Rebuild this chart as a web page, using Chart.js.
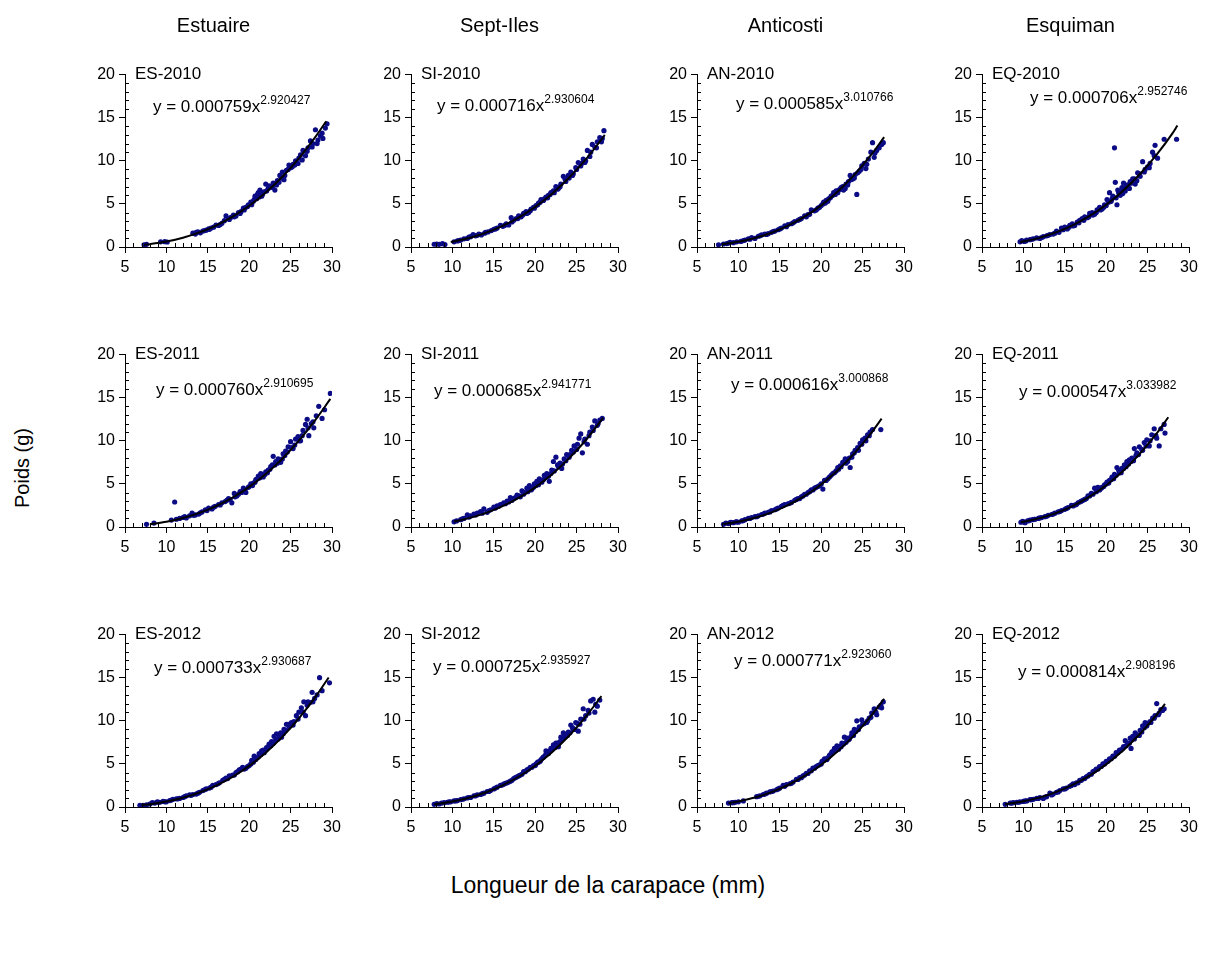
<!DOCTYPE html>
<html>
<head>
<meta charset="utf-8">
<script src="https://cdn.jsdelivr.net/npm/chart.js@4.4.1/dist/chart.umd.min.js"></script>
<style>
  body { margin: 0; background: #fff; font-family: "Liberation Sans", Arial, sans-serif; }
  #page { position: relative; width: 1212px; height: 957px; overflow: hidden; }
  canvas { position: absolute; }
  .txt { position: absolute; white-space: nowrap; color: #000; line-height: 1; }
  .head { font-size: 20px; transform: translateX(-50%); }
  .lab { font-size: 17px; }
  .eq { font-size: 17px; }
  .eq sup { font-size: 12px; vertical-align: 0; position: relative; top: -8px; }
  #ytitle { font-size: 20px; transform: translate(-50%, -50%) rotate(-90deg); }
  #xtitle { font-size: 23px; transform: translateX(-50%); }
</style>
</head>
<body>
<div id="page"></div>
<script>
// Column headers, panel names and fitted equations
const COLUMNS = ["Estuaire", "Sept-Iles", "Anticosti", "Esquiman"];
const LABELS = [
    ["ES-2010", "SI-2010", "AN-2010", "EQ-2010"],
    ["ES-2011", "SI-2011", "AN-2011", "EQ-2011"],
    ["ES-2012", "SI-2012", "AN-2012", "EQ-2012"]
];
const EQ_COEF = [
    ["0.000759", "0.000716", "0.000585", "0.000706"],
    ["0.000760", "0.000685", "0.000616", "0.000547"],
    ["0.000733", "0.000725", "0.000771", "0.000814"]
];
const EQ_EXP = [
    ["2.920427", "2.930604", "3.010766", "2.952746"],
    ["2.910695", "2.941771", "3.000868", "3.033982"],
    ["2.930687", "2.935927", "2.923060", "2.908196"]
];
const X_TICKS = [5, 10, 15, 20, 25, 30];
const Y_TICKS = [0, 5, 10, 15, 20];

// Measured points (length mm, weight g)
const ES2010_PTS = [[7.3,0.25],[7.6,0.3],[9.3,0.6],[9.8,0.62],[10.1,0.58],[13.2,1.6],[13.5,1.5],[13.8,1.75],[14.1,1.65],[14.4,1.85],[14.8,1.95],[15.1,2.1],[15.4,2.2],[15.7,2.3],[16.0,2.55],[16.3,2.5],[16.7,2.75],[17.0,3.05],[17.2,3.6],[17.5,3.3],[17.8,3.45],[18.1,3.7],[18.4,3.6],[18.7,4.0],[19.0,4.1],[19.3,4.5],[19.6,4.6],[19.9,4.9],[20.2,5.2],[20.5,5.3],[20.7,5.9],[20.9,5.6],[21.1,6.3],[21.3,6.6],[21.5,5.9],[21.8,6.4],[22.0,7.3],[22.3,6.8],[22.6,7.0],[22.9,7.4],[23.1,6.6],[23.4,7.7],[23.7,8.3],[24.0,8.7],[24.2,7.8],[24.5,8.9],[24.8,9.5],[25.0,9.2],[25.3,9.6],[25.6,10.0],[25.9,9.7],[26.2,10.7],[26.5,11.2],[26.8,10.6],[27.1,11.5],[27.4,12.3],[27.7,12.0],[28.0,13.6],[28.3,12.4],[28.6,12.9],[28.9,12.6],[29.2,13.8],[29.4,14.3],
    [13.6,1.7],[14.6,1.9],[15.2,2.05],[16.5,2.6],[17.6,3.2],[18.2,3.5],[18.9,3.9],[19.4,4.3],[19.8,4.7],[20.3,4.9],[20.6,5.5],[21.0,6.1],[21.2,5.8],[21.6,6.1],[22.1,6.5],[22.4,7.1],[22.8,6.9],[23.3,7.2],[23.6,7.5],[23.9,8.0],[24.3,8.3],[24.7,9.0],[25.2,9.3],[25.5,9.5],[26.0,10.3],[26.4,10.1],[27.0,11.1],[27.6,11.6],[28.2,12.0],[28.8,13.2]];
const SI2010_PTS = [[7.8,0.32],[8.1,0.35],[8.4,0.3],[8.8,0.38],[9.1,0.28],[10.2,0.6],[10.6,0.7],[11.0,0.8],[11.4,0.95],[11.8,1.0],[12.2,1.2],[12.5,1.45],[12.8,1.3],[13.2,1.5],[13.5,1.4],[13.9,1.6],[14.3,1.75],[14.7,1.9],[15.0,2.05],[15.4,2.2],[15.8,2.5],[16.1,2.4],[16.5,2.7],[16.8,2.55],[17.1,3.4],[17.4,3.1],[17.7,3.3],[18.0,3.6],[18.3,3.5],[18.6,3.9],[18.9,4.1],[19.2,4.0],[19.5,4.4],[19.8,4.6],[20.1,4.8],[20.4,5.1],[20.7,5.5],[21.0,5.4],[21.3,5.8],[21.6,6.0],[21.9,6.3],[22.2,6.5],[22.5,7.0],[22.8,6.8],[23.1,7.3],[23.4,8.2],[23.7,7.6],[24.0,8.3],[24.3,8.7],[24.6,8.5],[24.9,9.2],[25.2,9.8],[25.5,9.4],[25.8,10.2],[26.1,10.0],[26.3,11.2],[26.6,10.5],[26.9,11.9],[27.2,11.6],[27.5,12.2],[27.8,12.7],[28.1,12.6],[28.3,13.5],
    [10.8,0.75],[12.0,1.15],[13.0,1.35],[14.0,1.7],[15.2,2.1],[16.3,2.5],[17.2,2.9],[17.9,3.3],[18.5,3.7],[19.0,3.9],[19.4,4.2],[19.9,4.5],[20.3,4.9],[20.6,5.2],[21.1,5.6],[21.5,5.7],[21.8,6.1],[22.3,6.3],[22.7,6.7],[23.0,7.0],[23.6,7.9],[24.1,8.0],[24.5,8.3],[25.0,9.0],[25.6,9.7],[26.0,9.8],[26.7,11.0],[27.4,11.5],[28.0,12.2]];
const AN2010_PTS = [[7.6,0.25],[8.2,0.35],[8.6,0.4],[9.0,0.55],[9.4,0.5],[9.8,0.6],[10.3,0.65],[10.8,0.8],[11.2,0.95],[11.6,1.1],[12.0,1.0],[12.4,1.25],[12.8,1.4],[13.2,1.5],[13.6,1.55],[14.0,1.7],[14.4,1.85],[14.8,2.0],[15.2,2.2],[15.6,2.45],[16.0,2.6],[16.4,2.7],[16.8,2.95],[17.2,3.1],[17.6,3.3],[18.0,3.6],[18.4,3.75],[18.8,4.3],[19.2,4.2],[19.6,4.5],[20.0,4.8],[20.3,5.2],[20.6,5.4],[20.9,5.6],[21.2,5.9],[21.5,6.3],[21.8,6.5],[22.1,6.6],[22.4,6.9],[22.7,6.6],[23.0,7.3],[23.3,7.6],[23.5,8.3],[23.8,7.9],[24.1,8.4],[24.3,6.1],[24.6,8.8],[24.9,9.4],[25.2,9.7],[25.4,9.1],[25.7,10.2],[26.0,11.0],[26.2,12.1],[26.4,10.4],[26.7,11.2],[27.0,11.5],[27.3,11.9],[27.5,12.1],
    [8.8,0.45],[10.6,0.75],[11.4,0.9],[12.6,1.3],[13.4,1.45],[14.2,1.8],[15.0,2.1],[15.8,2.35],[16.6,2.8],[17.4,3.2],[18.2,3.5],[18.6,3.8],[19.4,4.3],[19.8,4.6],[20.2,5.0],[20.5,5.1],[20.8,5.3],[21.1,5.7],[21.4,6.0],[21.7,6.1],[22.0,6.3],[22.3,6.7],[22.6,7.0],[22.9,6.8],[23.2,7.2],[23.6,7.8],[24.0,8.0],[24.4,8.6],[24.8,9.0],[25.5,9.6],[26.5,10.9]];
const EQ2010_PTS = [[9.6,0.6],[9.8,0.75],[10.1,0.65],[10.4,0.8],[10.8,0.85],[11.2,0.95],[11.6,1.05],[12.0,1.0],[12.4,1.2],[12.8,1.3],[13.2,1.45],[13.6,1.5],[14.0,1.85],[14.3,1.7],[14.6,2.2],[15.0,2.3],[15.3,2.1],[15.6,2.5],[15.9,2.7],[16.2,2.5],[16.5,2.9],[16.8,3.1],[17.1,3.3],[17.4,3.5],[17.7,3.4],[18.0,3.9],[18.3,4.0],[18.6,3.8],[18.9,4.3],[19.2,4.6],[19.5,4.4],[19.8,4.9],[20.1,5.5],[20.4,6.3],[20.6,5.3],[20.8,5.9],[21.0,11.5],[21.1,7.5],[21.3,4.9],[21.5,6.3],[21.7,6.0],[21.9,6.9],[22.1,7.4],[22.3,6.5],[22.6,7.2],[22.9,7.6],[23.2,7.9],[23.5,7.3],[23.8,8.6],[24.1,8.2],[24.4,9.9],[24.7,9.0],[25.0,9.3],[25.3,9.7],[25.6,11.0],[25.9,11.8],[26.2,10.3],[27.0,12.5],[28.5,12.5],
    [10.3,0.7],[11.0,0.9],[12.2,1.1],[13.0,1.35],[13.8,1.6],[14.8,2.0],[15.5,2.3],[16.0,2.45],[16.7,2.8],[17.3,3.1],[17.9,3.5],[18.4,3.7],[18.8,4.0],[19.3,4.3],[19.7,4.6],[20.0,4.8],[20.3,5.2],[20.7,5.6],[21.2,5.7],[21.4,6.6],[21.8,6.4],[22.0,6.2],[22.4,7.0],[22.8,6.8],[23.0,7.4],[23.4,7.9],[23.7,7.7],[24.0,8.5],[24.6,8.7],[25.2,9.2],[25.8,10.6]];
const ES2011_PTS = [[7.6,0.3],[8.5,0.45],[10.6,0.8],[11.0,2.9],[11.2,0.9],[11.6,1.0],[12.0,1.1],[12.4,1.05],[12.8,1.3],[13.1,1.6],[13.5,1.4],[13.9,1.5],[14.3,1.75],[14.7,2.0],[15.1,2.2],[15.5,2.1],[15.9,2.4],[16.3,2.6],[16.7,2.8],[17.1,2.95],[17.5,3.3],[17.9,2.8],[18.2,3.9],[18.5,3.6],[18.9,4.1],[19.3,4.5],[19.6,4.0],[19.9,4.6],[20.2,5.0],[20.5,5.1],[20.8,5.5],[21.1,5.9],[21.4,6.2],[21.7,5.8],[22.0,6.4],[22.3,6.6],[22.6,7.0],[22.9,8.2],[23.2,7.6],[23.5,7.9],[23.8,7.5],[24.1,8.5],[24.4,8.8],[24.7,9.3],[25.0,9.9],[25.3,9.1],[25.6,10.2],[25.9,10.5],[26.2,10.0],[26.5,11.2],[26.8,11.9],[27.0,12.5],[27.2,10.6],[27.5,12.0],[27.8,11.5],[28.1,12.9],[28.4,14.0],[28.8,12.6],[29.1,13.6],[29.8,15.5],
    [12.2,1.2],[13.3,1.35],[14.1,1.65],[14.9,1.9],[15.7,2.3],[16.5,2.55],[17.3,3.1],[17.7,3.2],[18.3,3.5],[18.7,3.8],[19.1,4.0],[19.5,4.3],[20.0,4.7],[20.4,4.8],[20.7,5.2],[21.0,5.6],[21.3,5.7],[21.6,6.1],[21.9,6.1],[22.2,6.3],[22.5,6.7],[22.8,7.2],[23.1,7.2],[23.4,7.4],[23.7,7.8],[24.0,7.9],[24.3,8.3],[24.6,8.7],[25.1,9.2],[25.5,9.5],[26.0,10.0],[26.4,10.6],[27.1,11.5],[27.7,12.2]];
const SI2011_PTS = [[10.2,0.6],[10.5,0.7],[11.0,0.85],[11.4,1.0],[11.8,1.4],[12.2,1.3],[12.6,1.5],[13.0,1.6],[13.4,1.8],[13.8,2.1],[14.2,1.7],[14.6,2.0],[15.0,2.3],[15.4,2.45],[15.8,2.6],[16.2,2.8],[16.6,3.0],[17.0,3.4],[17.4,3.3],[17.8,3.7],[18.1,3.6],[18.4,4.2],[18.7,4.0],[19.0,4.5],[19.3,4.8],[19.6,4.4],[19.9,5.0],[20.2,5.3],[20.5,5.6],[20.8,5.2],[21.1,6.0],[21.4,6.2],[21.7,5.3],[22.0,6.6],[22.2,7.6],[22.5,8.1],[22.7,7.2],[23.0,7.4],[23.2,6.8],[23.5,7.9],[23.8,8.4],[24.1,8.1],[24.4,8.9],[24.7,9.4],[25.0,9.0],[25.3,10.3],[25.5,10.8],[25.7,8.6],[26.0,10.2],[26.3,9.6],[26.6,11.0],[26.9,11.6],[27.2,12.3],[27.5,11.8],[27.8,12.4],[28.1,12.6],
    [11.2,0.95],[12.0,1.15],[12.8,1.4],[13.6,1.6],[14.4,1.9],[15.2,2.2],[15.6,2.4],[16.4,2.7],[16.8,2.9],[17.2,3.1],[17.6,3.4],[18.2,3.5],[18.6,3.8],[19.1,4.1],[19.5,4.3],[19.8,4.6],[20.1,4.8],[20.4,4.9],[20.7,5.3],[21.0,5.5],[21.3,5.8],[21.6,5.9],[21.9,6.2],[22.3,6.5],[22.8,7.0],[23.3,7.3],[23.7,7.7],[24.2,8.4],[24.6,8.7],[25.1,9.6],[25.9,9.9],[26.5,10.6],[27.0,11.2],[27.6,12.0]];
const AN2011_PTS = [[8.2,0.3],[8.5,0.45],[8.8,0.4],[9.1,0.55],[9.4,0.5],[9.7,0.6],[10.0,0.55],[10.4,0.7],[10.8,0.85],[11.2,1.0],[11.6,1.1],[12.0,1.2],[12.4,1.3],[12.8,1.45],[13.2,1.6],[13.6,1.7],[14.0,1.9],[14.4,2.0],[14.8,2.2],[15.2,2.4],[15.6,2.6],[16.0,2.7],[16.4,2.85],[16.8,3.1],[17.2,3.3],[17.6,3.5],[18.0,3.8],[18.4,4.0],[18.8,4.3],[19.2,4.5],[19.6,4.7],[20.0,5.0],[20.2,4.4],[20.4,5.4],[20.8,5.6],[21.2,6.0],[21.6,6.3],[22.0,6.9],[22.3,7.1],[22.6,7.5],[22.9,7.9],[23.2,7.6],[23.5,6.9],[23.8,8.5],[24.1,8.9],[24.4,9.2],[24.7,9.7],[25.0,10.1],[25.3,10.3],[25.6,10.7],[25.9,11.0],[26.2,11.3],[27.2,11.3],
    [9.0,0.5],[9.8,0.6],[10.6,0.75],[11.4,1.0],[12.2,1.2],[13.0,1.5],[13.8,1.75],[14.6,2.1],[15.4,2.5],[16.2,2.75],[17.0,3.2],[17.4,3.3],[17.8,3.6],[18.2,3.8],[18.6,4.1],[19.0,4.3],[19.4,4.6],[19.8,4.8],[20.6,5.4],[21.0,5.8],[21.4,6.2],[21.8,6.5],[22.1,6.7],[22.4,7.0],[22.8,7.6],[23.0,7.4],[23.4,8.0],[23.7,8.1],[24.0,8.6],[24.5,8.9],[24.9,9.6],[25.4,10.0],[25.8,10.6]];
const EQ2011_PTS = [[9.7,0.55],[9.9,0.65],[10.2,0.5],[10.5,0.7],[10.8,0.8],[11.1,0.85],[11.4,0.9],[11.8,1.0],[12.2,1.1],[12.6,1.2],[13.0,1.35],[13.4,1.45],[13.8,1.6],[14.2,1.75],[14.6,1.9],[15.0,2.05],[15.4,2.25],[15.8,2.5],[16.2,2.55],[16.6,2.8],[17.0,3.0],[17.4,3.2],[17.8,3.6],[18.2,3.9],[18.6,4.5],[18.9,4.2],[19.2,4.3],[19.5,4.6],[19.8,4.9],[20.1,5.2],[20.4,5.4],[20.7,5.8],[21.0,6.1],[21.3,6.9],[21.6,6.3],[21.9,6.8],[22.2,7.2],[22.5,7.6],[22.8,7.8],[23.1,8.0],[23.4,9.1],[23.7,8.6],[24.0,9.3],[24.3,9.0],[24.6,9.8],[24.9,10.1],[25.2,9.4],[25.5,10.7],[25.8,11.4],[26.1,10.3],[26.4,9.4],[26.6,11.4],[27.0,11.9],[27.1,10.9],
    [10.0,0.6],[10.7,0.75],[11.3,0.9],[12.0,1.05],[12.8,1.25],[13.6,1.5],[14.4,1.8],[15.2,2.15],[16.0,2.45],[16.4,2.6],[16.8,2.9],[17.2,3.1],[17.6,3.3],[18.0,3.6],[18.4,3.8],[18.8,4.1],[19.0,4.6],[19.4,4.5],[19.7,4.7],[20.0,5.0],[20.3,5.1],[20.6,5.5],[20.9,5.6],[21.2,6.0],[21.5,6.6],[21.8,6.3],[22.1,6.8],[22.4,7.0],[22.7,7.3],[23.0,7.6],[23.3,7.7],[23.6,8.3],[23.9,8.4],[24.4,8.9],[24.8,9.4],[25.3,10.0],[26.0,10.6]];
const ES2012_PTS = [[6.8,0.2],[7.2,0.2],[7.6,0.25],[8.0,0.35],[8.3,0.5],[8.6,0.45],[8.9,0.6],[9.2,0.55],[9.6,0.65],[10.0,0.6],[10.4,0.75],[10.8,0.9],[11.2,0.95],[11.6,1.0],[12.0,1.1],[12.4,1.3],[12.8,1.4],[13.2,1.45],[13.6,1.5],[14.0,1.7],[14.4,1.9],[14.8,2.1],[15.2,2.2],[15.6,2.5],[16.0,2.6],[16.4,2.8],[16.8,3.1],[17.2,3.35],[17.6,3.6],[18.0,3.7],[18.4,4.0],[18.8,4.3],[19.2,4.6],[19.6,4.5],[20.0,4.8],[20.3,5.4],[20.6,5.9],[20.9,5.7],[21.2,6.2],[21.5,6.5],[21.8,6.3],[22.1,6.9],[22.4,7.3],[22.7,7.6],[23.0,8.2],[23.3,8.5],[23.6,8.3],[23.9,8.1],[24.2,9.0],[24.5,9.6],[24.8,9.3],[25.1,9.8],[25.4,9.9],[25.7,10.6],[26.0,11.0],[26.3,11.5],[26.6,12.2],[26.8,10.6],[27.0,11.8],[27.3,12.1],[27.6,13.3],[27.9,12.6],[28.2,13.0],[28.5,15.0],[28.8,13.5],[29.7,14.4],
    [9.0,0.55],[9.8,0.6],[10.6,0.8],[11.4,0.95],[12.2,1.2],[13.0,1.35],[13.8,1.6],[14.6,2.0],[15.4,2.3],[16.2,2.7],[17.0,3.2],[17.4,3.3],[18.2,3.7],[18.6,4.1],[19.0,4.4],[19.4,4.4],[19.8,4.7],[20.2,5.0],[20.5,5.2],[20.8,5.5],[21.1,5.8],[21.4,6.1],[21.7,6.6],[22.0,6.6],[22.3,7.0],[22.6,7.1],[22.9,7.4],[23.2,7.8],[23.5,7.9],[23.8,8.6],[24.1,8.5],[24.4,8.9],[24.7,9.6],[25.3,9.5],[25.9,10.2],[26.5,11.0],[27.1,12.2],[27.7,12.2]];
const SI2012_PTS = [[7.8,0.3],[8.1,0.4],[8.4,0.35],[8.7,0.45],[9.0,0.5],[9.4,0.55],[9.8,0.6],[10.2,0.7],[10.6,0.75],[11.0,0.85],[11.4,0.95],[11.8,1.05],[12.2,1.1],[12.6,1.3],[13.0,1.4],[13.4,1.45],[13.8,1.6],[14.2,1.8],[14.6,1.9],[15.0,2.1],[15.4,2.3],[15.8,2.5],[16.2,2.65],[16.6,2.8],[17.0,3.0],[17.4,3.3],[17.8,3.5],[18.2,3.7],[18.6,4.1],[19.0,4.3],[19.4,4.6],[19.8,4.8],[20.1,5.0],[20.4,5.2],[20.7,5.5],[21.0,5.8],[21.3,6.5],[21.6,6.2],[21.9,6.8],[22.2,7.2],[22.5,7.4],[22.8,7.0],[23.1,8.1],[23.4,8.6],[23.7,8.2],[24.0,8.7],[24.3,9.5],[24.6,9.0],[24.9,9.8],[25.2,8.8],[25.5,10.2],[25.8,11.4],[26.1,10.6],[26.4,11.2],[26.7,12.3],[27.0,12.5],[27.2,11.0],[27.5,11.7],[27.8,12.4],
    [9.6,0.6],[10.4,0.7],[11.2,0.9],[12.0,1.1],[12.8,1.3],[13.6,1.55],[14.4,1.8],[15.2,2.2],[16.0,2.55],[16.4,2.75],[16.8,2.9],[17.2,3.1],[17.6,3.4],[18.0,3.6],[18.4,3.8],[18.8,4.1],[19.2,4.4],[19.6,4.6],[20.0,4.8],[20.3,5.2],[20.6,5.3],[20.9,5.7],[21.2,6.0],[21.5,6.3],[21.8,6.5],[22.1,6.8],[22.4,6.9],[22.7,7.4],[23.0,7.6],[23.3,7.9],[23.6,8.4],[23.9,8.3],[24.2,8.6],[24.5,9.2],[24.8,9.0],[25.1,9.7],[25.4,9.6],[25.9,10.2],[26.5,10.9],[27.3,11.9]];
const AN2012_PTS = [[8.8,0.45],[9.2,0.5],[9.6,0.55],[10.0,0.6],[10.6,0.7],[12.2,1.2],[12.6,1.3],[13.0,1.45],[13.4,1.6],[13.8,1.75],[14.2,1.85],[14.6,2.0],[15.0,2.2],[15.4,2.5],[15.8,2.6],[16.2,2.7],[16.6,2.9],[17.0,3.2],[17.4,3.4],[17.8,3.6],[18.2,3.9],[18.6,4.2],[19.0,4.5],[19.4,4.7],[19.8,4.9],[20.1,5.3],[20.4,5.6],[20.7,5.5],[21.0,6.0],[21.3,6.4],[21.6,6.8],[21.9,7.1],[22.2,7.0],[22.5,7.4],[22.8,8.1],[23.1,8.0],[23.4,7.9],[23.7,8.6],[24.0,9.0],[24.3,10.0],[24.6,9.3],[24.9,10.1],[25.2,9.7],[25.5,9.8],[25.8,10.3],[26.1,10.9],[26.4,11.4],[26.7,10.7],[27.0,11.6],[27.3,11.5],[27.5,12.2],
    [9.4,0.5],[12.4,1.25],[13.2,1.5],[14.0,1.8],[14.8,2.1],[15.6,2.4],[16.4,2.75],[17.2,3.2],[17.6,3.4],[18.0,3.7],[18.4,3.9],[18.8,4.2],[19.2,4.5],[19.6,4.8],[20.0,5.0],[20.3,5.4],[20.6,5.6],[20.9,5.8],[21.2,6.2],[21.5,6.5],[21.8,6.6],[22.1,6.7],[22.4,7.0],[22.7,7.3],[23.0,7.5],[23.3,7.8],[23.6,8.2],[23.9,8.3],[24.2,8.8],[24.5,9.0],[25.0,9.6],[25.6,10.0],[26.0,10.4],[26.6,11.0],[27.2,11.8]];
const EQ2012_PTS = [[7.8,0.3],[8.4,0.45],[8.8,0.5],[9.2,0.55],[9.6,0.6],[10.0,0.65],[10.4,0.7],[10.8,0.85],[11.2,0.9],[11.6,1.0],[12.0,1.1],[12.4,1.0],[12.8,1.2],[13.2,1.6],[13.6,1.5],[14.0,1.7],[14.4,1.9],[14.8,2.1],[15.2,2.2],[15.6,2.4],[16.0,2.7],[16.4,2.8],[16.8,3.1],[17.2,3.3],[17.6,3.5],[18.0,3.8],[18.4,4.1],[18.8,4.4],[19.2,4.7],[19.6,5.0],[20.0,5.3],[20.4,5.6],[20.8,5.9],[21.2,6.3],[21.6,6.6],[22.0,6.8],[22.3,7.7],[22.6,7.4],[22.9,8.0],[23.0,6.8],[23.2,8.2],[23.5,8.6],[23.8,8.3],[24.1,8.9],[24.4,9.4],[24.7,9.8],[25.0,9.7],[25.3,9.9],[25.6,10.3],[25.9,10.6],[26.1,12.0],[26.4,10.9],[26.6,11.3],[27.0,11.4],
    [8.6,0.45],[9.4,0.55],[10.2,0.7],[11.0,0.85],[11.8,1.0],[12.6,1.15],[13.4,1.4],[14.2,1.75],[15.0,2.1],[15.8,2.5],[16.2,2.6],[16.6,2.8],[17.0,3.1],[17.4,3.3],[17.8,3.6],[18.2,3.8],[18.6,4.2],[19.0,4.4],[19.4,4.7],[19.8,5.0],[20.2,5.3],[20.6,5.6],[21.0,5.9],[21.4,6.3],[21.8,6.6],[22.1,7.0],[22.4,7.1],[22.8,7.4],[23.1,7.8],[23.4,7.9],[23.7,8.4],[24.0,8.3],[24.3,8.7],[24.6,9.2],[24.9,9.4],[25.4,9.8],[25.8,10.3],[26.3,10.7],[26.8,11.2]];

// Fitted curves
const ES2010_FIT = [[7.3,0.25],[8,0.33],[10,0.63],[12,1.08],[14,1.69],[16,2.49],[18,3.52],[20,4.78],[22,6.32],[24,8.15],[26,10.29],[28,12.78],[29.3,14.59]];
const SI2010_FIT = [[9.8,0.58],[12,1.04],[14,1.64],[16,2.42],[18,3.42],[20,4.65],[22,6.15],[24,7.94],[26,10.04],[28,12.47],[28.4,13.0]];
const AN2010_FIT = [[8,0.31],[10,0.60],[12,1.04],[14,1.65],[16,2.47],[18,3.52],[20,4.83],[22,6.44],[24,8.37],[26,10.65],[27.6,12.74]];
const EQ2010_FIT = [[9.6,0.56],[12,1.09],[14,1.72],[16,2.54],[18,3.60],[20,4.90],[22,6.49],[24,8.38],[26,10.60],[28,13.18],[28.6,14.10]];
const ES2011_FIT = [[8,0.32],[10,0.62],[12,1.05],[14,1.64],[16,2.43],[18,3.42],[20,4.65],[22,6.15],[24,7.92],[26,10.01],[28,12.43],[29.8,14.86]];
const SI2011_FIT = [[10.2,0.64],[12,1.03],[14,1.61],[16,2.39],[18,3.38],[20,4.60],[22,6.09],[24,7.87],[26,9.95],[28.2,12.65]];
const AN2011_FIT = [[8.2,0.34],[10,0.62],[12,1.07],[14,1.70],[16,2.53],[18,3.60],[20,4.94],[22,6.58],[24,8.54],[26,10.86],[27.3,12.57]];
const EQ2011_FIT = [[9.7,0.54],[12,1.03],[14,1.64],[16,2.46],[18,3.52],[20,4.85],[22,6.47],[24,8.43],[26,10.74],[27.5,12.73]];
const ES2012_FIT = [[7,0.22],[8,0.33],[10,0.63],[12,1.07],[14,1.68],[16,2.48],[18,3.50],[20,4.77],[22,6.30],[24,8.13],[26,10.28],[28,12.77],[29.6,15.03]];
const SI2012_FIT = [[7.8,0.30],[10,0.63],[12,1.07],[14,1.68],[16,2.49],[18,3.51],[20,4.79],[22,6.33],[24,8.18],[26,10.34],[28,12.86]];
const AN2012_FIT = [[8.8,0.44],[10,0.65],[12,1.10],[14,1.73],[16,2.55],[18,3.60],[20,4.90],[22,6.47],[24,8.34],[26,10.54],[27.6,12.56]];
const EQ2012_FIT = [[7.8,0.32],[10,0.66],[12,1.12],[14,1.75],[16,2.59],[18,3.64],[20,4.95],[22,6.53],[24,8.41],[26,10.61],[27.1,11.96]];

const POINTS = [
    [ES2010_PTS, SI2010_PTS, AN2010_PTS, EQ2010_PTS],
    [ES2011_PTS, SI2011_PTS, AN2011_PTS, EQ2011_PTS],
    [ES2012_PTS, SI2012_PTS, AN2012_PTS, EQ2012_PTS]
];
const FITS = [
    [ES2010_FIT, SI2010_FIT, AN2010_FIT, EQ2010_FIT],
    [ES2011_FIT, SI2011_FIT, AN2011_FIT, EQ2011_FIT],
    [ES2012_FIT, SI2012_FIT, AN2012_FIT, EQ2012_FIT]
];

// Layout (pixels)
const AXIS_LEFT = [125, 411, 697, 982];
const ROW_TOP = [73, 353, 633];
const PLOT_W = 207, PLOT_H = 174;
const EQ_DX = [[28, 26, 39, 48], [31, 23, 34, 37], [29, 22, 37, 36]];
const EQ_DY = [[33, 32, 30, 24], [36, 37, 31, 38], [34, 33, 27, 38]];
const FONT = "'Liberation Sans', Arial, sans-serif";

const page = document.getElementById("page");

const addText = (cls, html, left, top, id) => {
    const div = document.createElement("div");
    div.className = "txt " + cls;
    if (id) div.id = id;
    div.innerHTML = html;
    div.style.left = left + "px";
    div.style.top = top + "px";
    page.appendChild(div);
    return div;
};

// small inward ticks at every unit
const minorTicks = {
    id: "minorTicks",
    afterDraw: (chart) => {
        const ctx = chart.ctx;
        const xs = chart.scales.x;
        const ys = chart.scales.y;
        ctx.save();
        ctx.strokeStyle = "#000";
        ctx.lineWidth = 1;
        ctx.beginPath();
        for (let v = xs.min + 1; v < xs.max; v++) {
            if (v % 5 === 0) continue;
            const px = Math.round(xs.getPixelForValue(v)) + 0.5;
            ctx.moveTo(px, ys.bottom);
            ctx.lineTo(px, ys.bottom - 4);
        }
        for (let v = ys.min + 1; v < ys.max; v++) {
            if (v % 5 === 0) continue;
            const py = Math.round(ys.getPixelForValue(v)) + 0.5;
            ctx.moveTo(xs.left, py);
            ctx.lineTo(xs.left + 4, py);
        }
        ctx.stroke();
        ctx.restore();
    }
};

const PAD_L = 5, Y_W = 50, PAD_T = 12, PAD_R = 20, X_H = 30, PAD_B = 6;

const buildPanel = (r, c) => {
    const canvas = document.createElement("canvas");
    const w = PAD_L + Y_W + PLOT_W + PAD_R;
    const h = PAD_T + PLOT_H + X_H + PAD_B;
    canvas.width = w;
    canvas.height = h;
    canvas.style.left = (AXIS_LEFT[c] - PAD_L - Y_W) + "px";
    canvas.style.top = (ROW_TOP[r] - PAD_T) + "px";
    page.appendChild(canvas);

    new Chart(canvas, {
        type: "scatter",
        data: {
            datasets: [
                {
                    data: FITS[r][c].map(p => ({ x: p[0], y: p[1] })),
                    showLine: true,
                    borderColor: "#000",
                    borderWidth: 2,
                    pointRadius: 0,
                    cubicInterpolationMode: "monotone",
                    order: 0
                },
                {
                    data: POINTS[r][c].map(p => ({ x: p[0], y: p[1] })),
                    backgroundColor: "#0b0b86",
                    borderColor: "#0b0b86",
                    borderWidth: 0,
                    pointRadius: 2.6,
                    order: 1
                }
            ]
        },
        options: {
            responsive: false,
            animation: false,
            layout: { padding: { left: PAD_L, top: PAD_T, right: PAD_R, bottom: PAD_B } },
            plugins: { legend: { display: false }, tooltip: { enabled: false } },
            scales: {
                x: {
                    type: "linear",
                    min: X_TICKS[0],
                    max: X_TICKS[X_TICKS.length - 1],
                    afterBuildTicks: (s) => { s.ticks = X_TICKS.map(v => ({ value: v })); },
                    afterFit: (s) => { s.height = X_H; },
                    ticks: { color: "#000", padding: 5, maxRotation: 0, font: { family: FONT, size: 16 } },
                    grid: { drawOnChartArea: false, tickLength: 6, color: "#000" },
                    border: { color: "#000", width: 1 }
                },
                y: {
                    type: "linear",
                    min: Y_TICKS[0],
                    max: Y_TICKS[Y_TICKS.length - 1],
                    afterBuildTicks: (s) => { s.ticks = Y_TICKS.map(v => ({ value: v })); },
                    afterFit: (s) => { s.width = Y_W; },
                    ticks: { color: "#000", padding: 4, font: { family: FONT, size: 16 } },
                    grid: { drawOnChartArea: false, tickLength: 6, color: "#000" },
                    border: { color: "#000", width: 1 }
                }
            }
        },
        plugins: [minorTicks]
    });

    addText("lab", LABELS[r][c], AXIS_LEFT[c] + 10, ROW_TOP[r] - 8);
    addText("eq", "y = " + EQ_COEF[r][c] + "x<sup>" + EQ_EXP[r][c] + "</sup>",
        AXIS_LEFT[c] + EQ_DX[r][c], ROW_TOP[r] + EQ_DY[r][c] - 8);
};

for (let r = 0; r < 3; r++) {
    for (let c = 0; c < 4; c++) {
        buildPanel(r, c);
    }
}

COLUMNS.forEach((name, c) => {
    addText("head", name, AXIS_LEFT[c] + PLOT_W / 2 - 15, 15);
});
addText("", "Poids (g)", 22, 468, "ytitle");
addText("", "Longueur de la carapace (mm)", 608, 874, "xtitle");
</script>
</body>
</html>
